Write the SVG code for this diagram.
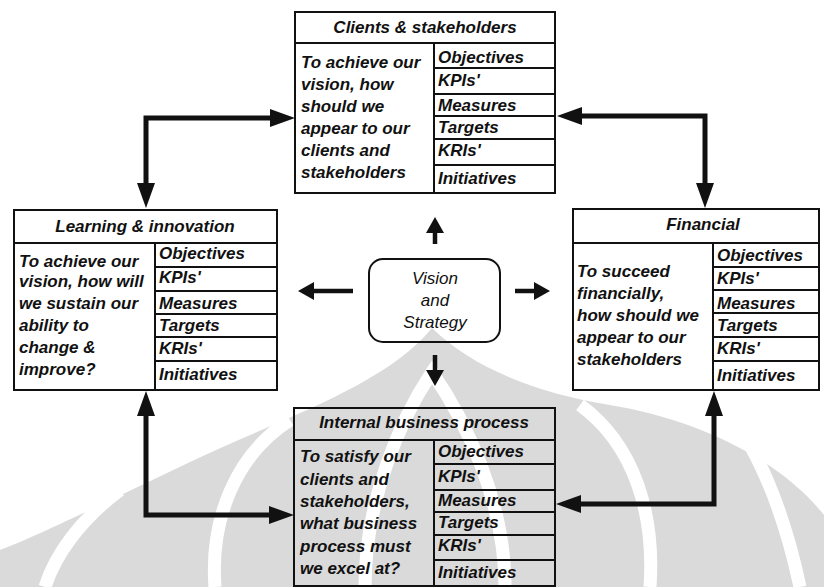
<svg xmlns="http://www.w3.org/2000/svg" width="824" height="587" viewBox="0 0 824 587">
  <style>
    .box { fill: none; stroke: #111; stroke-width: 2; }
    .rule { fill: none; stroke: #111; stroke-width: 2; }
    .t { font-family: "Liberation Sans", Arial, sans-serif; font-style: italic; font-weight: bold; font-size: 17px; fill: #111; }
    .hd { text-anchor: middle; }
    .vs { font-family: "Liberation Sans", Arial, sans-serif; font-style: italic; font-size: 17px; fill: #111; text-anchor: middle; }
    .conn { fill: none; stroke: #111; stroke-width: 5; stroke-linejoin: miter; }
    .ray { fill: none; stroke: #111; stroke-width: 4.5; }
    .wm { fill: #dadada; }
    .wmcut { fill: none; stroke: #fff; stroke-width: 13; }
  </style>
  <defs>
    <marker id="head" markerUnits="userSpaceOnUse" markerWidth="26" markerHeight="20" refX="4" refY="9" orient="auto-start-reverse">
      <path d="M0,0 L25,9 L0,18 Z" fill="#111"/>
    </marker>
    <marker id="rayhead" markerUnits="userSpaceOnUse" markerWidth="18" markerHeight="20" refX="2" refY="9" orient="auto">
      <path d="M0,0 L16,9 L0,18 Z" fill="#111"/>
    </marker>
  </defs>

  <rect width="824" height="587" fill="#fff"/>

  <!-- faint background emblem -->
  <g id="emblem">
    <path class="wm" d="M432,328 C385,385 290,415 190,462 C110,500 40,535 0,550 L0,587 L824,587 L824,515 C780,460 700,420 610,405 C530,392 470,365 432,328 Z"/>
    <path class="wmcut" d="M365,587 C365,500 400,420 432,372 C465,420 505,500 505,587"/>
    <path class="wmcut" d="M290,420 C235,455 210,520 215,587"/>
    <path class="wmcut" d="M580,405 C635,445 655,515 650,587"/>
    <path class="wmcut" d="M120,490 C80,520 55,555 45,587"/>
    <path class="wmcut" d="M750,445 C775,490 790,540 800,587"/>
  </g>

  <!-- connectors -->
  <g id="connectors">
    <path class="conn" d="M146,187 L146,118 L274,118" marker-start="url(#head)" marker-end="url(#head)"/>
    <path class="conn" d="M705,187 L705,116 L578,116" marker-start="url(#head)" marker-end="url(#head)"/>
    <path class="conn" d="M146,412 L146,515 L273,515" marker-start="url(#head)" marker-end="url(#head)"/>
    <path class="conn" d="M714,412 L714,504 L577,504" marker-start="url(#head)" marker-end="url(#head)"/>
    <path class="ray" d="M435,244 L435,231" marker-end="url(#rayhead)"/>
    <path class="ray" d="M353,291 L312,291" marker-end="url(#rayhead)"/>
    <path class="ray" d="M515,291 L536,291" marker-end="url(#rayhead)"/>
    <path class="ray" d="M435,355 L435,372" marker-end="url(#rayhead)"/>
  </g>

  <!-- Clients & stakeholders -->
  <g id="clients">
    <rect class="box" x="295" y="12" width="260" height="181"/>
    <path class="rule" d="M295,43 H555 M434,43 V193 M434,68 H555 M434,94 H555 M434,116 H555 M434,139 H555 M434,165 H555"/>
    <text class="t hd" x="425" y="33">Clients &amp; stakeholders</text>
    <text class="t" x="301" y="68">To achieve our</text>
    <text class="t" x="301" y="90">vision, how</text>
    <text class="t" x="301" y="112">should we</text>
    <text class="t" x="301" y="134">appear to our</text>
    <text class="t" x="301" y="156">clients and</text>
    <text class="t" x="301" y="178">stakeholders</text>
    <text class="t" x="438" y="63">Objectives</text>
    <text class="t" x="438" y="86">KPIs'</text>
    <text class="t" x="438" y="111">Measures</text>
    <text class="t" x="438" y="133">Targets</text>
    <text class="t" x="438" y="156">KRIs'</text>
    <text class="t" x="438" y="184">Initiatives</text>
  </g>

  <!-- Learning & innovation -->
  <g id="learning">
    <rect class="box" x="14" y="210" width="263" height="180"/>
    <path class="rule" d="M14,243 H277 M155,243 V390 M155,267 H277 M155,291 H277 M155,314 H277 M155,337 H277 M155,361 H277"/>
    <text class="t hd" x="145" y="232">Learning &amp; innovation</text>
    <text class="t" x="19" y="267">To achieve our</text>
    <text class="t" x="19" y="287">vision, how will</text>
    <text class="t" x="19" y="309">we sustain our</text>
    <text class="t" x="19" y="331">ability to</text>
    <text class="t" x="19" y="353">change &amp;</text>
    <text class="t" x="19" y="375">improve?</text>
    <text class="t" x="159" y="259">Objectives</text>
    <text class="t" x="159" y="283">KPIs'</text>
    <text class="t" x="159" y="309">Measures</text>
    <text class="t" x="159" y="331">Targets</text>
    <text class="t" x="159" y="354">KRIs'</text>
    <text class="t" x="159" y="380">Initiatives</text>
  </g>

  <!-- Financial -->
  <g id="financial">
    <rect class="box" x="573" y="209" width="246" height="181"/>
    <path class="rule" d="M573,243 H819 M713,243 V390 M713,267 H819 M713,290 H819 M713,313 H819 M713,337 H819 M713,361 H819"/>
    <text class="t hd" x="703" y="230">Financial</text>
    <text class="t" x="577" y="277">To succeed</text>
    <text class="t" x="577" y="299">financially,</text>
    <text class="t" x="577" y="321">how should we</text>
    <text class="t" x="577" y="343">appear to our</text>
    <text class="t" x="577" y="365">stakeholders</text>
    <text class="t" x="717" y="261">Objectives</text>
    <text class="t" x="717" y="284">KPIs'</text>
    <text class="t" x="717" y="309">Measures</text>
    <text class="t" x="717" y="331">Targets</text>
    <text class="t" x="717" y="354">KRIs'</text>
    <text class="t" x="717" y="381">Initiatives</text>
  </g>

  <!-- Internal business process -->
  <g id="internal">
    <rect class="box" x="294" y="408" width="261" height="178"/>
    <path class="rule" d="M294,440 H555 M434,440 V586 M434,464 H555 M434,490 H555 M434,512 H555 M434,535 H555 M434,560 H555"/>
    <text class="t hd" x="424" y="428">Internal business process</text>
    <text class="t" x="300" y="462">To satisfy our</text>
    <text class="t" x="300" y="485">clients and</text>
    <text class="t" x="300" y="507">stakeholders,</text>
    <text class="t" x="300" y="529">what business</text>
    <text class="t" x="300" y="552">process must</text>
    <text class="t" x="300" y="574">we excel at?</text>
    <text class="t" x="438" y="457">Objectives</text>
    <text class="t" x="438" y="482">KPIs'</text>
    <text class="t" x="438" y="506">Measures</text>
    <text class="t" x="438" y="528">Targets</text>
    <text class="t" x="438" y="551">KRIs'</text>
    <text class="t" x="438" y="578">Initiatives</text>
  </g>

  <!-- Vision and Strategy -->
  <g id="vision">
    <rect class="box" x="369" y="259" width="131" height="83" rx="14" ry="14"/>
    <text class="vs" x="435" y="284">Vision</text>
    <text class="vs" x="435" y="306">and</text>
    <text class="vs" x="435" y="328">Strategy</text>
  </g>
</svg>
